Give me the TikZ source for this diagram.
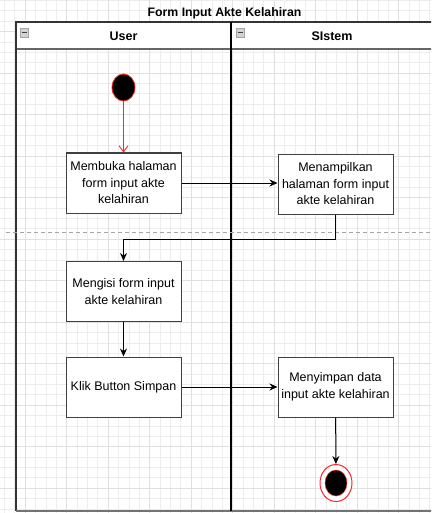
\documentclass[tikz,border=0pt]{standalone}
\usepackage{fontspec}
\setmainfont{Liberation Sans}
\usetikzlibrary{arrows.meta,shapes.geometric,calc}
\begin{document}
\begin{tikzpicture}[x=1pt,y=-1pt,
  gridminor/.style={draw=black!7, line width=0.5pt},
  gridmajor/.style={draw=black!12, line width=0.7pt},
  act/.style={draw=black!75, line width=1pt, fill=white, minimum width=115pt, minimum height=60pt, align=center, font=\fontsize{12.5}{16.5}\selectfont, inner sep=0pt},
  flow/.style={draw=black, line width=1pt, -{Stealth[length=8pt,width=7pt]}},
  redflow/.style={draw=red!85, line width=0.9pt, -{Straight Barb[length=6pt,width=9pt]}},
  lanehead/.style={font=\bfseries\fontsize{12.5}{14}\selectfont},
  minusbox/.style={draw=gray!70, fill=gray!35, minimum width=8pt, minimum height=9pt, inner sep=0pt}
]
\useasboundingbox (0,0) rectangle (431,513);
\begin{scope}
\clip (0,0) rectangle (431,513);
% grid
\foreach \i in {-3,...,40} {\draw[gridminor] ({25+10.375*\i},0) -- ({25+10.375*\i},513);}
\foreach \i in {-4,...,49} {\draw[gridminor] (0,{31.5+10.375*\i}) -- (431,{31.5+10.375*\i});}
\foreach \i in {-1,...,10} {\draw[gridmajor] ({25+41.5*\i},0) -- ({25+41.5*\i},513);}
\foreach \i in {-1,...,12} {\draw[gridmajor] (0,{31.5+41.5*\i}) -- (431,{31.5+41.5*\i});}
% pool
\fill[white] (16,22) rectangle (440,49);
\draw[black!60, line width=1.5pt] (16,49) -- (440,49);
\draw[black!80, line width=1.3pt] (16,511) -- (16,22) -- (440,22);
\draw[black!55, line width=1.2pt] (16,511) -- (440,511);
\draw[black, line width=1.8pt] (231,22) -- (231,511);
\draw[gray!70, dashed, dash pattern=on 4pt off 3pt, line width=0.8pt] (6,232) -- (440,232);
\end{scope}
% title and lane headers
\node[font=\bfseries\fontsize{12.3}{14}\selectfont] (title) at (224.5,13) {Form Input Akte Kelahiran};
\node[lanehead] (user) at (123.5,36.5) {User};
\node[lanehead] (sistem) at (332,36.5) {SIstem};
\node[minusbox] (m1) at (24.5,32.5) {};
\node[minusbox] (m2) at (240.5,32.5) {};
\draw[black!75, line width=1.5pt] ($(m1.west)+(1.3,0)$) -- ($(m1.east)+(-1.3,0)$);
\draw[black!75, line width=1.5pt] ($(m2.west)+(1.3,0)$) -- ($(m2.east)+(-1.3,0)$);
% activities
\node[act] (b1) at (123.5,183) {Membuka halaman\\form input akte\\kelahiran};
\node[act] (b2) at (335.5,184) {Menampilkan\\halaman form input\\akte kelahiran};
\node[act] (b3) at (123.5,291.5) {Mengisi form input\\akte kelahiran};
\node[act] (b4) at (123.5,387) {Klik Button Simpan};
\node[act] (b5) at (335.5,387) {Menyimpan data\\input akte kelahiran};
% start / end
\node[ellipse, fill=black, draw=red!85, line width=0.8pt, minimum width=23pt, minimum height=27pt, inner sep=0pt] (start) at (123.5,87.5) {};
\node[ellipse, fill=white, draw=red!85, line width=1pt, minimum width=32pt, minimum height=37pt, inner sep=0pt] (end) at (336,483) {};
\node[ellipse, fill=black, draw=red!85, line width=0.5pt, minimum width=22pt, minimum height=26pt, inner sep=0pt] (endin) at (336,483) {};
% flows
\draw[redflow] (start) -- (b1);
\draw[flow] (b1.east) -- (b1.east -| b2.west);
\draw[flow] (b2.south) -- ++(0,25) -| (b3.north);
\draw[flow] (b3) -- (b4);
\draw[flow] (b4) -- (b5);
\draw[flow] (b5) -- (end);
\end{tikzpicture}
\end{document}
